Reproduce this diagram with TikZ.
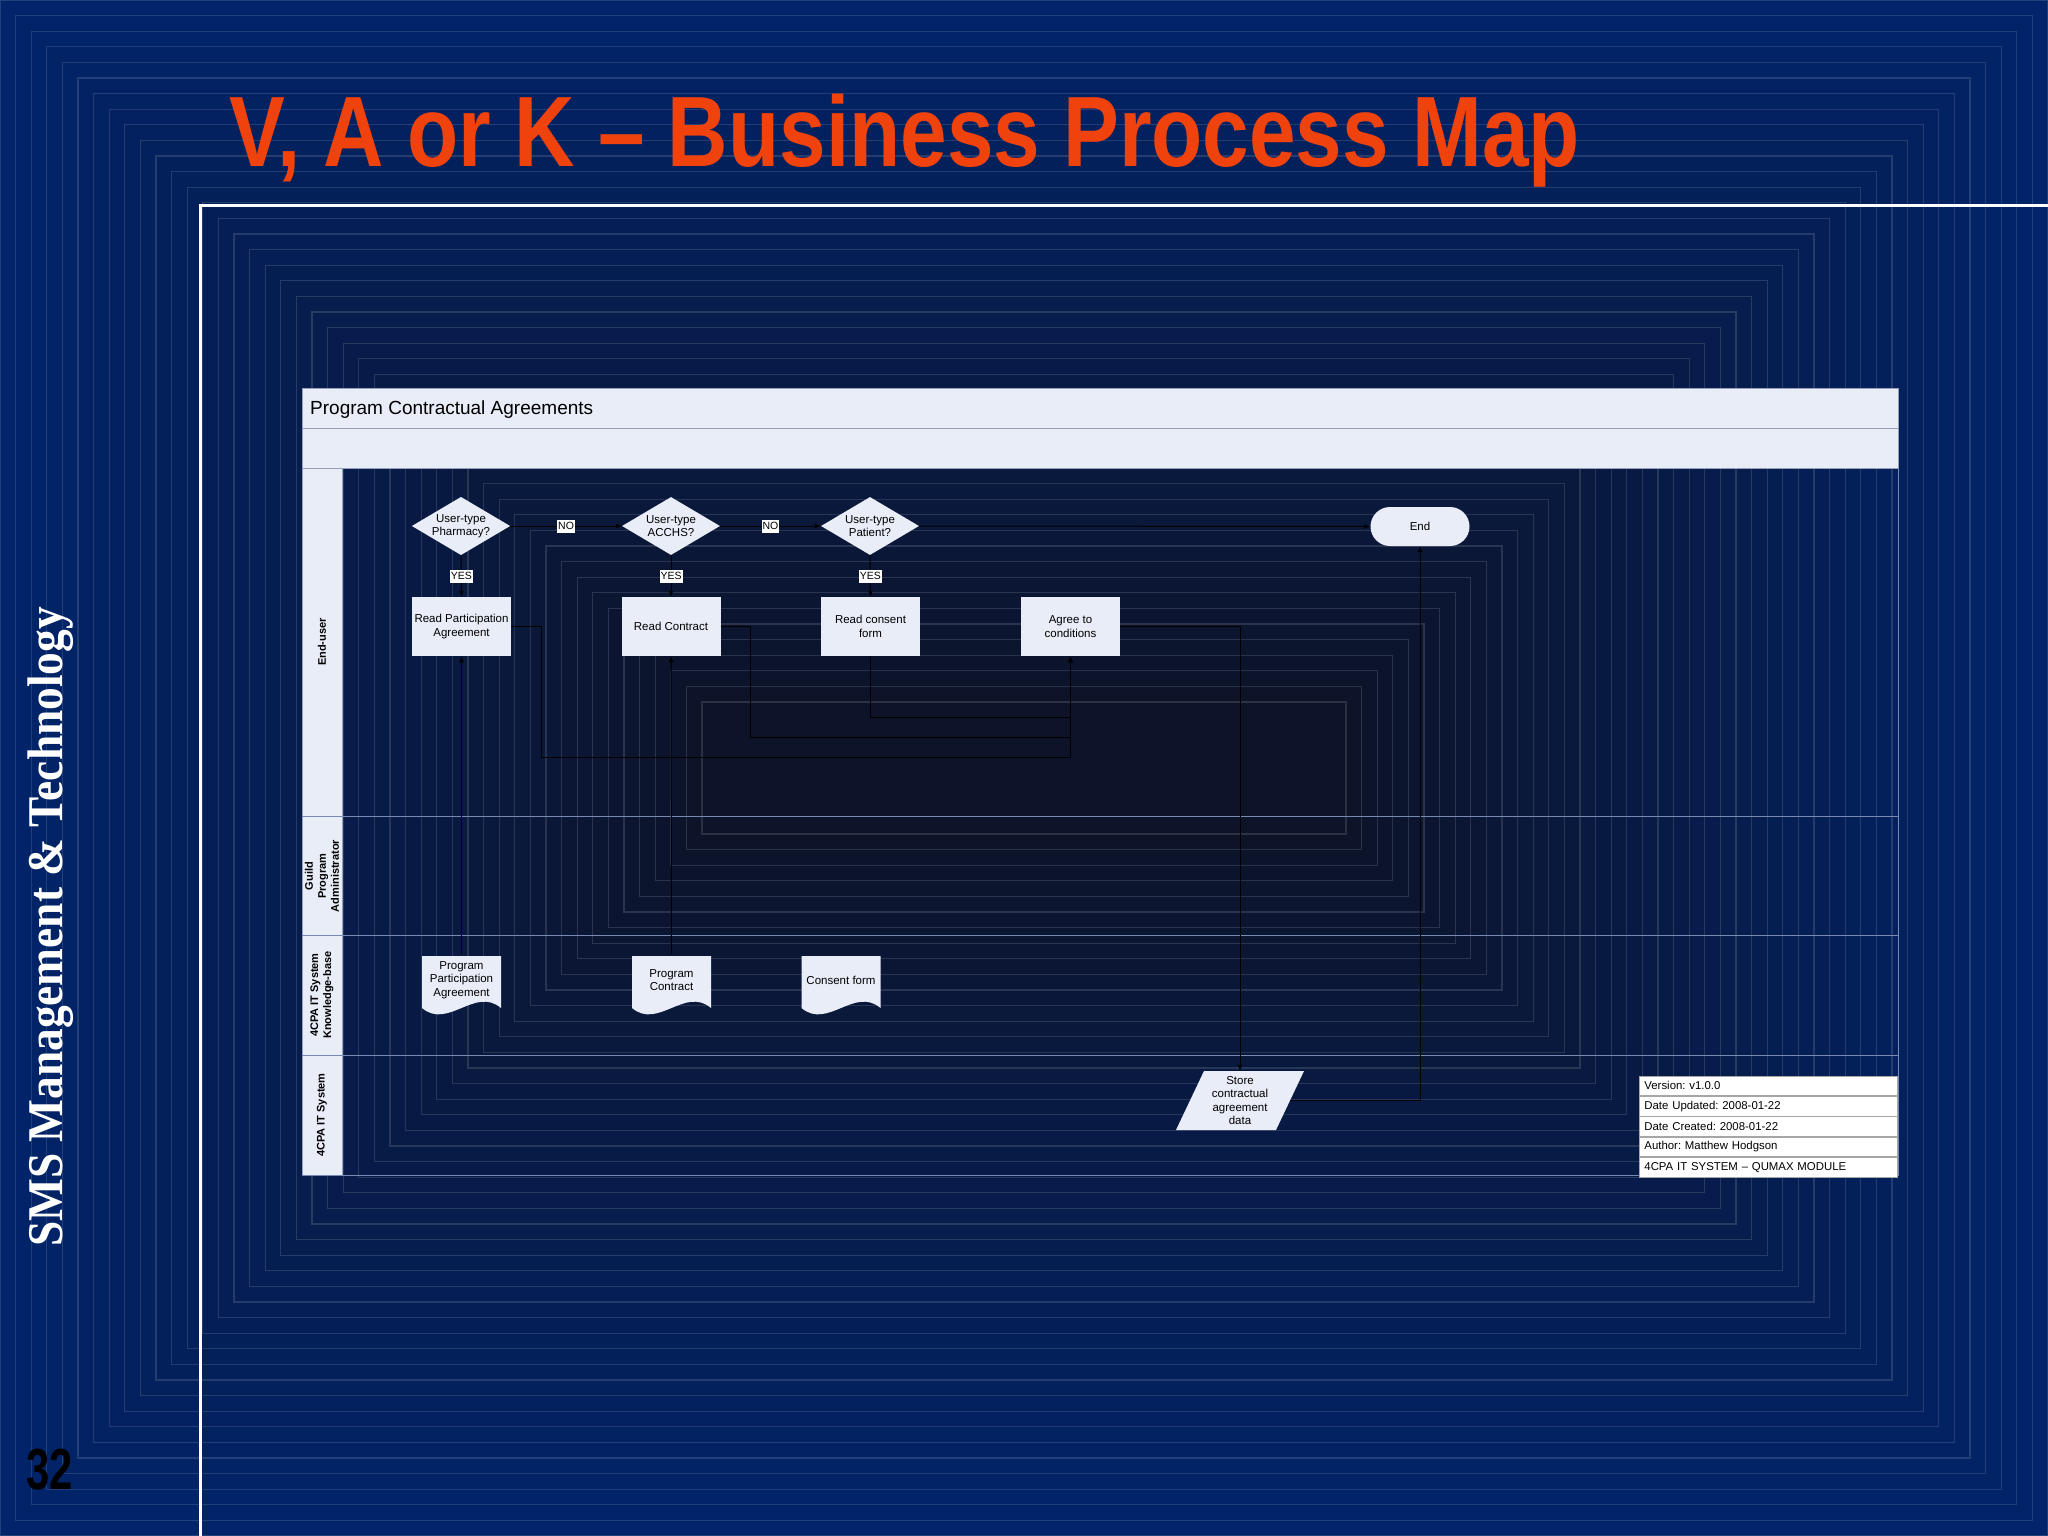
\documentclass[tikz,border=0pt]{standalone}
\usepackage{graphicx}
\usepackage{fontspec}
\setmainfont{Liberation Sans}
\newfontfamily\sidefont{Liberation Serif}
\usetikzlibrary{arrows.meta,shapes.geometric,calc}
\definecolor{outerc}{RGB}{1,36,106}
\definecolor{innerc}{RGB}{13,19,40}
\definecolor{shapefill}{RGB}{233,237,247}
\definecolor{titlec}{RGB}{240,66,12}
\definecolor{laneline}{RGB}{120,138,178}
\definecolor{hdrline}{RGB}{150,160,185}
\newcommand\mydfont{\fontsize{11.5}{13.5}\selectfont}
\newcommand\mylfont{\fontsize{10.5}{12}\selectfont}
\newcommand\mylanefont{\fontsize{11}{13}\selectfont\bfseries}
\newcommand\myrowfont{\fontsize{11.4}{13}\selectfont\frenchspacing}
\begin{document}
\begin{tikzpicture}[x=1pt,y=-1pt,
  conn/.style={draw=black, line width=1pt, -{Latex[length=6pt,width=5pt]}},
  proc/.style={rectangle, fill=shapefill, minimum width=99pt, minimum height=59pt, inner sep=2pt, align=center, font=\mydfont, text=black},
  decision/.style={diamond, shape aspect=1.69, fill=shapefill, minimum width=98pt, minimum height=58pt, inner sep=0pt, align=center, font=\mydfont, text=black},
  term/.style={rectangle, rounded corners=19.5pt, fill=shapefill, minimum width=99pt, minimum height=39pt, inner sep=0pt, font=\mydfont, text=black},
  doctext/.style={rectangle, minimum width=79pt, minimum height=52pt, inner sep=0pt, align=center, font=\mydfont, text=black},
  storetext/.style={rectangle, minimum width=128pt, minimum height=59pt, inner sep=0pt, align=center, font=\mydfont, text=black},
  lbl/.style={fill=white, inner sep=1pt, minimum height=13pt, font=\mylfont, text=black},
  lanelbl/.style={rotate=90, align=center, font=\mylanefont, text=black, inner sep=0pt},
  vrow/.style={rectangle, anchor=north west, fill=white, draw=gray!70, line width=0.8pt, text width=248pt, inner xsep=5pt, inner ysep=0pt, minimum height=19.6pt, align=left, font=\myrowfont, text=black},
  docshape/.pic={\fill[shapefill] (-39.5,-26) -- (39.5,-26) -- (39.5,26) .. controls (13.5,4) and (-13.5,48) .. (-39.5,26) -- cycle;},
  storeshape/.pic={\fill[shapefill] (-36,-29.5) -- (64,-29.5) -- (36,29.5) -- (-64,29.5) -- cycle;}
]
\useasboundingbox (0,0) rectangle (2048,1536);
% background
\fill[outerc] (0,0) rectangle (2048,1536);
\foreach \i in {0,...,45}{
  \pgfmathtruncatemacro\p{\i*100/45}
  \pgfmathsetmacro\d{\i*15.6}
  \filldraw[fill=innerc!\p!outerc, draw=white, draw opacity=0.13, line width=1.1pt] (\d,\d) rectangle (2048-\d,1536-\d);
}
% white frame
\draw[white, line width=3pt] (2048,205) -- (200,205) -- (200,1536);
% slide texts
\node[anchor=base west, text=titlec, inner sep=0pt] (title) at (229,166)
  {\fontsize{100}{104}\selectfont\bfseries\scalebox{0.837}[1]{V, A or K – Business Process Map}};
\node[rotate=90, anchor=base west, inner sep=0pt, text=white] (side) at (62,1247)
  {\sidefont\bfseries\fontsize{50}{55}\selectfont\scalebox{0.907}[1]{SMS Management \& Technology}};
\node[anchor=base west, inner sep=0pt, text=black] (pagenum) at (26,1489)
  {\fontsize{58}{60}\selectfont\bfseries\scalebox{0.72}[1]{32}};
% pool header
\filldraw[fill=shapefill, draw=hdrline, line width=1pt] (302,388) rectangle (1898,468);
\draw[hdrline, line width=1pt] (302,428) -- (1898,428);
\node[anchor=base west, inner sep=0pt, text=black, font=\fontsize{19}{22}\selectfont] (pooltitle) at (310,414) {Program Contractual Agreements};
% lane label column
\filldraw[fill=shapefill, draw=hdrline, line width=1pt] (302,468) rectangle (342,1175);
\foreach \y in {816,935,1055} \draw[laneline, line width=1pt] (302,\y) -- (1898,\y);
\draw[laneline, line width=1pt] (302,1175) -- (1898,1175) -- (1898,468);
\node[lanelbl] (lane1) at (322,642) {End-user};
\node[lanelbl] (lane2) at (322,876) {Guild\\Program\\Administrator};
\node[lanelbl] (lane3) at (322,995) {4CPA IT System\\Knowledge-base};
\node[lanelbl] (lane4) at (322,1115) {4CPA IT System};
% decisions
\node[decision] (d1) at (461,526) {User-type\\Pharmacy?};
\node[decision] (d2) at (671,526) {User-type\\ACCHS?};
\node[decision] (d3) at (870,526) {User-type\\Patient?};
\node[term] (endn) at (1420,526.5) {End};
% processes
\node[proc] (b1) at (461.5,626.5) {Read Participation\\Agreement};
\node[proc] (b2) at (671,626.5) {Read Contract};
\node[proc] (b3) at (870.5,626.5) {Read consent\\form};
\node[proc] (b4) at (1070.5,626.5) {Agree to\\conditions};
% documents
\pic at (461.5,982) {docshape};
\node[doctext] (doc1) at (461.5,980) {Program\\Participation\\Agreement};
\pic at (671.5,982) {docshape};
\node[doctext] (doc2) at (671.5,980) {Program\\Contract};
\pic at (841,982) {docshape};
\node[doctext] (doc3) at (841,980) {Consent form};
% store
\pic at (1240,1100.5) {storeshape};
\node[storetext] (store) at (1240,1100.5) {Store\\contractual\\agreement\\data};
\coordinate (storeR) at ($(store.east)+(-14,0)$);
% version table
\node[vrow] (v1) at (1639,1075.5) {Version: v1.0.0};
\node[vrow] (v2) at (v1.south west) {Date Updated: 2008-01-22};
\node[vrow] (v3) at (v2.south west) {Date Created: 2008-01-22};
\node[vrow] (v4) at (v3.south west) {Author: Matthew Hodgson};
\node[vrow] (v5) at (v4.south west) {4CPA IT SYSTEM – QUMAX MODULE};
% connectors
\draw[conn] (d1.east) -- node[lbl] (no1) {NO} (d2.west);
\draw[conn] (d2.east) -- node[lbl] (no2) {NO} (d3.west);
\draw[conn] (d3.east) -- (endn.west);
\draw[conn] (d1.south) -- node[lbl] (yes1) {YES} (b1.north);
\draw[conn] (d2.south) -- node[lbl] (yes2) {YES} (b2.north);
\draw[conn] (d3.south) -- node[lbl] (yes3) {YES} (b3.north);
\draw[conn] (doc1.north) -- (b1.south);
\draw[conn] (doc2.north) -- (b2.south);
\draw[conn] (b1.east) -- ++(30,0) |- ($(b4.south)+(0,101)$) -- (b4.south);
\draw[conn] (b2.east) -- ++(30,0) |- ($(b4.south)+(0,81)$) -- (b4.south);
\draw[conn] (b3.south) |- ($(b4.south)+(0,61)$) -- (b4.south);
\draw[conn] (b4.east) -| (store.north);
\draw[conn] (storeR) -| (endn.south);
\end{tikzpicture}
\end{document}
